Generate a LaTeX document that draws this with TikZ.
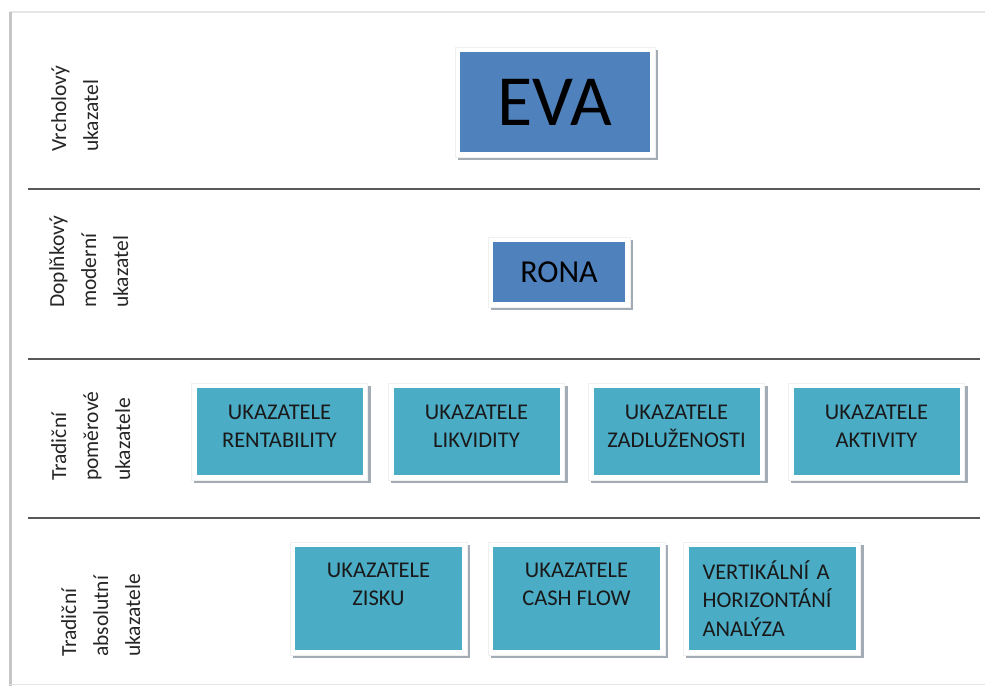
\documentclass[tikz,border=0pt]{standalone}
\usepackage{fontspec}
\setmainfont{Carlito}
\usetikzlibrary{backgrounds}
\pgfdeclarelayer{paper}
\pgfsetlayers{paper,background,main}
\definecolor{evablue}{HTML}{4F81BD}
\definecolor{aqua}{HTML}{4BACC6}
\definecolor{shadowc}{HTML}{A3ABB5}
\definecolor{sepc}{HTML}{595959}
\definecolor{labc}{HTML}{262626}
\tikzset{
  topbox/.style={fill=evablue, text=black, inner sep=0pt, align=center},
  midbox/.style={fill=aqua, text=black!90, inner sep=0pt, align=center,
    minimum width=166pt, font=\fontsize{22.5}{28.5}\selectfont},
  sidelabel/.style={rotate=90, anchor=north west, inner sep=0pt, align=left,
    text=labc, font=\fontsize{21.5}{32}\selectfont},
  sepline/.style={draw=sepc, line width=1.3pt}
}
\begin{document}
\begin{tikzpicture}[x=1pt,y=-1pt]
\useasboundingbox (0,0) rectangle (985,686);
\begin{pgfonlayer}{paper}
\fill[white] (0,0) rectangle (985,686);
\draw[gray!20, line width=2pt] (10,12) -- (985,12);
\draw[gray!45, line width=3pt] (10,12) -- (10,686);
\draw[gray!20, line width=1.5pt] (10,684.5) -- (985,684.5);
\end{pgfonlayer}
% separators
\coordinate (s1a) at (28,189); \coordinate (s1b) at (980,189);
\coordinate (s2a) at (28,359); \coordinate (s2b) at (980,359);
\coordinate (s3a) at (28,518); \coordinate (s3b) at (980,518);
\draw[sepline] (s1a) -- (s1b);
\draw[sepline] (s2a) -- (s2b);
\draw[sepline] (s3a) -- (s3b);
% side labels
\node[sidelabel] (l1) at (51,152) {Vrcholový\\ukazatel};
\node[sidelabel] (l2) at (49,308) {Doplňkový\\moderní\\ukazatel};
\node[sidelabel] (l3) at (51,481) {Tradiční\\poměrové\\ukazatele};
\node[sidelabel] (l4) at (61,657) {Tradiční\\absolutní\\ukazatele};
% boxes
\node[topbox, minimum width=190pt, minimum height=100pt,
  font=\fontsize{72}{74}\selectfont] (eva) at (555,102) {EVA};
\node[topbox, minimum width=132pt, minimum height=60pt,
  font=\fontsize{32}{34}\selectfont] (rona) at (559,272) {RONA};
\node[midbox, minimum height=87pt] (rent) at (279.5,431.5) {UKAZATELE\\RENTABILITY\\[-18pt]\mbox{}};
\node[midbox, minimum height=87pt] (likv) at (476.5,431.5) {UKAZATELE\\LIKVIDITY\\[-18pt]\mbox{}};
\node[midbox, minimum height=87pt] (zadl) at (676.5,431.5) {UKAZATELE\\ZADLUŽENOSTI\\[-18pt]\mbox{}};
\node[midbox, minimum height=87pt] (aktiv) at (876.5,431.5) {UKAZATELE\\AKTIVITY\\[-18pt]\mbox{}};
\node[midbox, minimum width=167pt, minimum height=103pt] (zisk) at (378.5,598.5) {UKAZATELE\\ZISKU\\\mbox{}};
\node[midbox, minimum width=167pt, minimum height=103pt] (cash) at (576.5,598.5) {UKAZATELE\\CASH FLOW\\\mbox{}};
\node[midbox, minimum width=167pt, minimum height=103pt, align=left, text width=139pt] (vert) at (772,598.5) {VERTIKÁLNÍ A\\HORIZONTÁNÍ\\ANALÝZA};
\begin{scope}[on background layer]
\foreach \n in {eva,rona,rent,likv,zadl,aktiv,zisk,cash,vert}{
  \fill[shadowc] ([shift={(-2,-2)}]\n.north west) rectangle ([shift={(8,8)}]\n.south east);
  \filldraw[fill=white, draw=gray!12, line width=0.6pt] ([shift={(-5,-5)}]\n.north west) rectangle ([shift={(5,5)}]\n.south east);
}
\end{scope}
\end{tikzpicture}
\end{document}
